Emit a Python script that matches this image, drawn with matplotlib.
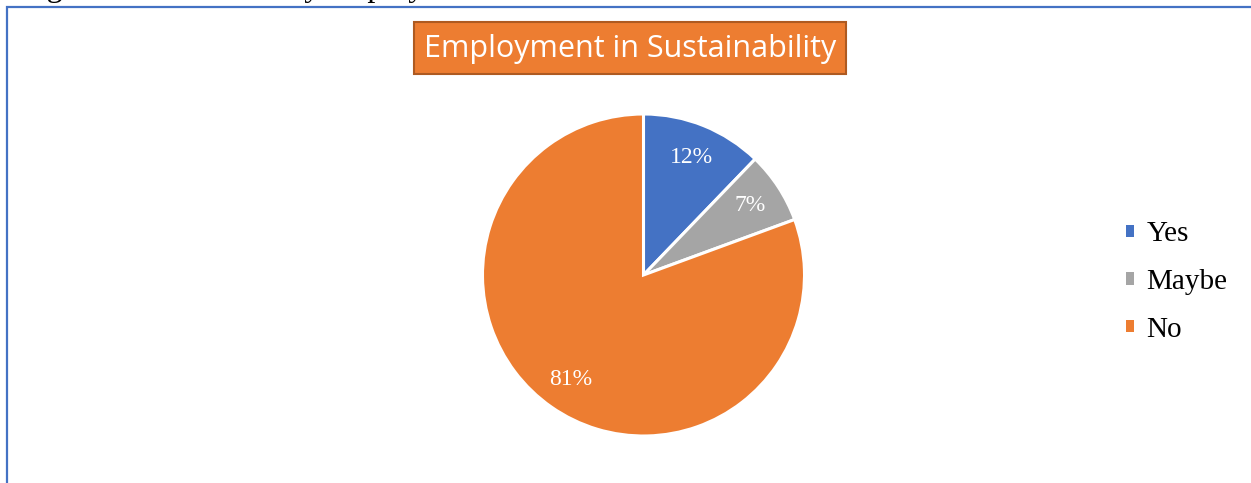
import matplotlib
matplotlib.use("Agg")
import matplotlib.pyplot as plt
from matplotlib.patches import Rectangle, Patch

# data
labels = ["Yes", "Maybe", "No"]
shares = [12.2, 7.2, 80.6]
colors = ["#4472C4", "#A5A5A5", "#ED7D31"]
title = "Employment in Sustainability"

W, H = 1251, 483
fig = plt.figure(figsize=(W / 100, H / 100), dpi=100)


def fx(px):
    return px / W


def fy(py):
    return 1 - py / H


# cut-off caption from the page above
fig.text(fx(20), fy(-4), "Figure 6: Sustainability employment", family="Liberation Serif",
         fontsize=23, va="baseline", ha="left")

# chart frame (runs off the right and bottom edges)
fig.patches.append(Rectangle((fx(6.5), fy(520)), fx(1300), fy(6.5) - fy(520),
                             transform=fig.transFigure,
                             fill=False, edgecolor="#4472C4", linewidth=1.6))

# title box
fig.patches.append(Rectangle((fx(414), fy(74)), fx(432), 52 / H, transform=fig.transFigure,
                             facecolor="#ED7D31", edgecolor="#AE5A21", linewidth=1.5))
fig.text(fx(630), fy(49), title, family="Open Sans", fontsize=22, color="white",
         ha="center", va="center")

# pie
cx, cy, r = 643.5, 275, 161
ax = fig.add_axes([fx(cx - r), fy(cy + r), 2 * r / W, 2 * r / H])
wedges, _, autotexts = ax.pie(shares, colors=colors, startangle=90, counterclock=False,
                              autopct="%.0f%%", pctdistance=0.79,
                              wedgeprops=dict(edgecolor="white", linewidth=2.2),
                              textprops=dict(family="Liberation Serif", fontsize=17, color="white"))
ax.set_xlim(-1, 1)
ax.set_ylim(-1, 1)
ax.set_aspect("equal")

handles = [Patch(facecolor=c, edgecolor="none") for c in colors]
fig.legend(handles, labels, loc="center left", bbox_to_anchor=(fx(1100), fy(282)),
           frameon=False, prop=dict(family="Liberation Serif", size=21),
           handlelength=0.28, handleheight=0.28, handletextpad=0.42, labelspacing=0.74)

fig.savefig("out.png", dpi=100)
